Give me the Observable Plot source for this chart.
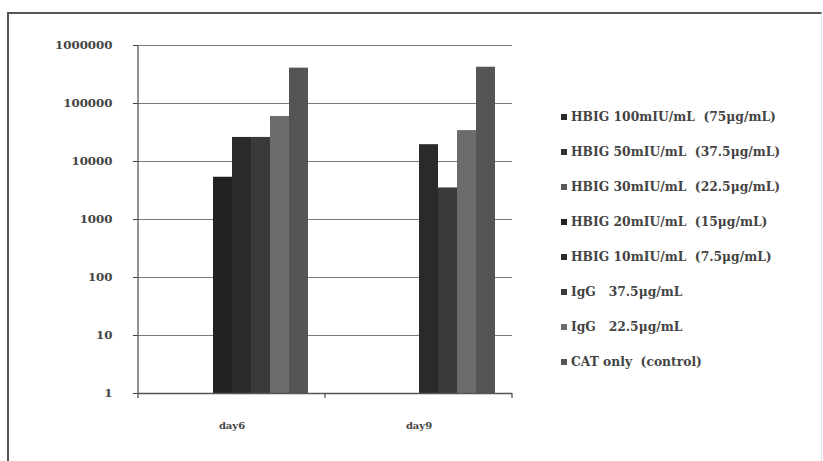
<!DOCTYPE html>
<html>
<head>
<meta charset="utf-8">
<script src="https://cdn.jsdelivr.net/npm/d3@7"></script>
<script src="https://cdn.jsdelivr.net/npm/@observablehq/plot@0.6"></script>
<style>
  html, body { margin: 0; padding: 0; background: #fff; }
  #wrap { position: relative; width: 823px; height: 461px; overflow: hidden; background: #fff; }
  #frame { position: absolute; left: 7px; top: 12px; width: 815px; height: 460px;
           border-left: 2px solid #555; border-top: 2px solid #555; border-right: 1px solid #e4e4e4; box-sizing: border-box; }
  #chart { position: absolute; left: 0; top: 0; }
  #legend { position: absolute; left: 561px; top: 109px; font-family: "DejaVu Serif", serif; font-size: 12.3px; font-weight: bold; color: #444; }
  .item { height: 35px; display: flex; align-items: flex-start; white-space: pre; }
  .sw { width: 6px; height: 6px; margin-top: 5px; margin-right: 4px; flex: none; }
</style>
</head>
<body>
<div id="wrap">
  <div id="frame"></div>
  <div id="chart"></div>
  <div id="legend"></div>
</div>
<script>
const days = ["day6", "day9"];
const seriesNames = [
  "HBIG 100mIU/mL  (75μg/mL)",
  "HBIG 50mIU/mL  (37.5μg/mL)",
  "HBIG 30mIU/mL  (22.5μg/mL)",
  "HBIG 20mIU/mL  (15μg/mL)",
  "HBIG 10mIU/mL  (7.5μg/mL)",
  "IgG   37.5μg/mL",
  "IgG   22.5μg/mL",
  "CAT only  (control)"
];
const seriesColors = ["#2b2b2b", "#303030", "#5a5a5a", "#222222", "#2a2a2a", "#3a3a3a", "#6c6c6c", "#555555"];
const day6Values = [null, null, null, 5350, 26000, 26000, 59600, 407000];
const day9Values = [null, null, null, null, 19500, 3500, 34100, 422000];
const yTicks = [1, 10, 100, 1000, 10000, 100000, 1000000];

const rows = [];
[day6Values, day9Values].forEach((vals, di) => {
  vals.forEach((v, si) => {
    if (v != null) rows.push({day: days[di], series: seriesNames[si], value: v});
  });
});

const plot = Plot.plot({
  width: 823,
  height: 440,
  marginLeft: 138,
  marginRight: 311,
  marginTop: 45,
  marginBottom: 47,
  style: {fontFamily: "'DejaVu Serif', serif", fontSize: "11.8px", fontWeight: "bold", color: "#444", background: "transparent"},
  fx: {domain: days, padding: 0, label: null, tickSize: 0, tickPadding: 28},
  x: {domain: seriesNames, paddingInner: 0, paddingOuter: 0.75, axis: null},
  y: {type: "log", domain: [1, 1000000], ticks: yTicks, tickFormat: d => String(d), tickSize: 5, tickPadding: 21, label: null},
  color: {domain: seriesNames, range: seriesColors},
  facet: {data: rows, x: "day"},
  marks: [
    Plot.ruleY(yTicks, {stroke: "#7a7a7a", strokeWidth: 1}),
    Plot.barY(rows, {x: "series", y1: 1, y2: "value", fill: "series"}),
    Plot.ruleY([1], {stroke: "#555", strokeWidth: 1.3})
  ]
});
document.getElementById("chart").appendChild(plot);

// fx axis label size
d3.select(plot).selectAll("g[aria-label='fx-axis tick label']").style("font-size", "10px");

// y-axis line and category boundary ticks from the scales
const fx = plot.scale("fx"), y = plot.scale("y");
const svg = d3.select(plot);
const x0 = fx.apply(days[0]);
const yTop = y.apply(1000000), yBot = y.apply(1);
svg.append("line").attr("x1", x0).attr("x2", x0).attr("y1", yTop).attr("y2", yBot + 5)
  .attr("stroke", "#555").attr("stroke-width", 1.3);
days.forEach(d => {
  const xe = fx.apply(d) + fx.bandwidth;
  svg.append("line").attr("x1", xe).attr("x2", xe).attr("y1", yBot).attr("y2", yBot + 5)
    .attr("stroke", "#555").attr("stroke-width", 1.3);
});

// legend
const leg = d3.select("#legend");
seriesNames.forEach((s, i) => {
  const it = leg.append("div").attr("class", "item");
  it.append("div").attr("class", "sw").style("background", seriesColors[i]);
  it.append("span").text(s);
});
</script>
</body>
</html>
